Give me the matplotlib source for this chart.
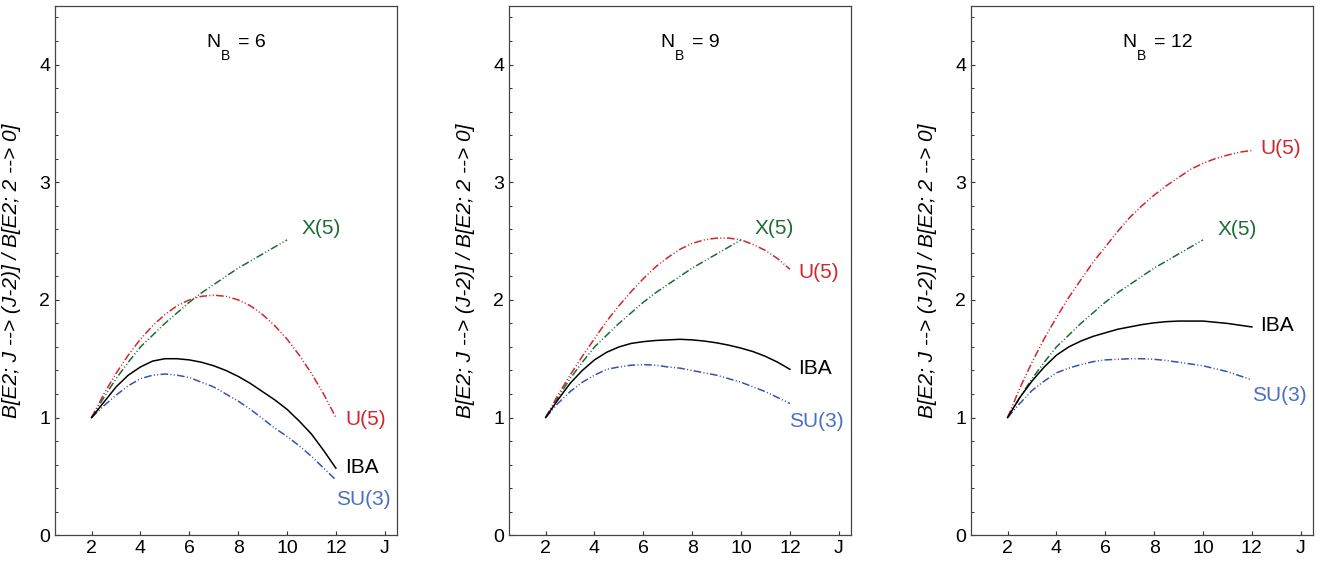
import numpy as np
import matplotlib
matplotlib.use("Agg")
import matplotlib.pyplot as plt
from matplotlib.ticker import MultipleLocator

plt.rcParams['font.family'] = ['Liberation Sans', 'DejaVu Sans']

J = [2, 2.5, 3, 3.5, 4, 4.5, 5, 5.5, 6, 6.5, 7, 7.5, 8, 8.5, 9, 9.5,
     10, 10.5, 11, 11.5, 12]
J_x5 = J[:17]

# boson numbers of the three panels
nb = [6, 9, 12]

# X(5) is the same in every panel
x5 = [1.00, 1.17, 1.33, 1.47, 1.60, 1.70, 1.80, 1.89, 1.98, 2.06, 2.13,
      2.20, 2.27, 2.33, 2.39, 2.45, 2.51]

# N_B = 6
u5_6 = [1.00, 1.20, 1.375, 1.53, 1.667, 1.78, 1.875, 1.95, 2.00, 2.03, 2.04,
        2.03, 2.00, 1.95, 1.875, 1.78, 1.667, 1.53, 1.375, 1.20, 1.00]
iba_6 = [1.00, 1.13, 1.26, 1.36, 1.43, 1.48, 1.50, 1.50, 1.49, 1.47, 1.44,
         1.40, 1.35, 1.29, 1.22, 1.15, 1.07, 0.97, 0.86, 0.72, 0.57]
su3_6 = [1.00, 1.10, 1.19, 1.27, 1.33, 1.36, 1.37, 1.36, 1.34, 1.30, 1.26,
         1.20, 1.14, 1.07, 0.99, 0.91, 0.84, 0.76, 0.67, 0.57, 0.47]

# N_B = 9
u5_9 = [1.00, 1.19, 1.36, 1.52, 1.67, 1.82, 1.95, 2.07, 2.18, 2.28, 2.36,
        2.43, 2.48, 2.51, 2.525, 2.525, 2.51, 2.47, 2.42, 2.35, 2.26]
iba_9 = [1.00, 1.15, 1.29, 1.40, 1.49, 1.555, 1.60, 1.63, 1.645, 1.655, 1.66,
         1.665, 1.66, 1.65, 1.635, 1.615, 1.59, 1.56, 1.52, 1.47, 1.41]
su3_9 = [1.00, 1.12, 1.22, 1.30, 1.36, 1.41, 1.43, 1.445, 1.45, 1.445, 1.43,
         1.42, 1.40, 1.38, 1.36, 1.33, 1.30, 1.26, 1.22, 1.17, 1.12]

# N_B = 12
u5_12 = [1.00, 1.25, 1.47, 1.67, 1.85, 2.02, 2.17, 2.32, 2.45, 2.58, 2.70,
         2.80, 2.89, 2.97, 3.04, 3.11, 3.16, 3.20, 3.23, 3.255, 3.27]
iba_12 = [1.00, 1.17, 1.31, 1.43, 1.53, 1.60, 1.65, 1.69, 1.72, 1.75, 1.77,
          1.79, 1.805, 1.815, 1.82, 1.82, 1.82, 1.81, 1.80, 1.785, 1.77]
su3_12 = [1.00, 1.12, 1.23, 1.31, 1.38, 1.42, 1.45, 1.475, 1.49, 1.495, 1.50,
          1.50, 1.495, 1.485, 1.47, 1.455, 1.44, 1.415, 1.39, 1.355, 1.32]

u5_all = [u5_6, u5_9, u5_12]
iba_all = [iba_6, iba_9, iba_12]
su3_all = [su3_6, su3_9, su3_12]

red = '#d0262c'
green = '#1d6b35'
blue = '#3553b5'
blue_txt = '#4a6fc4'
dd = (5, 1.5, 0.7, 1.5, 0.7, 1.5)

fig = plt.figure(figsize=(13.21, 5.67), dpi=100)
lefts = [0.0416, 0.3853, 0.735]

for k in range(3):
    ax = fig.add_axes([lefts[k], 0.056, 0.2589, 0.934])
    ax.plot(J_x5, x5, color=green, lw=1.1, dashes=dd)
    ax.plot(J, u5_all[k], color=red, lw=1.1, dashes=dd)
    ax.plot(J, su3_all[k], color=blue, lw=1.1, dashes=dd)
    ax.plot(J, iba_all[k], color='black', lw=1.1)

    ax.set_xlim(0.5, 14.5)
    ax.set_ylim(0, 4.5)
    ax.set_xticks([2, 4, 6, 8, 10, 12, 14])
    ax.set_xticklabels(['2', '4', '6', '8', '10', '12', 'J'])
    ax.set_yticks([0, 1, 2, 3, 4])
    ax.yaxis.set_minor_locator(MultipleLocator(0.2))
    ax.tick_params(direction='in', labelsize=14, length=3, width=0.8,
                   color='#333333', top=False, right=False)
    ax.tick_params(which='minor', direction='in', length=1.8, width=0.7,
                   color='#333333', left=True, bottom=False)
    for s in ax.spines.values():
        s.set_color('#444444')
        s.set_linewidth(0.9)

    ax.set_ylabel('B[E2; J --> (J-2)] / B[E2; 2 --> 0]', fontsize=15,
                  style='italic')
    ax.yaxis.set_label_coords(-0.1, 0.5)

    # panel title N_B = ..., subscript set lower by hand
    ax.text(6.7, 4.19, 'N', fontsize=14, va='center', ha='left')
    ax.text(7.31, 4.07, 'B', fontsize=10, va='center', ha='left')
    ax.text(8.0, 4.19, '= %d' % nb[k], fontsize=14, va='center', ha='left')

# curve labels
lab_pos = [
    {'X(5)': (10.6, 2.61), 'U(5)': (12.37, 0.98), 'IBA': (12.37, 0.575), 'SU(3)': (12.0, 0.30)},
    {'X(5)': (10.57, 2.61), 'U(5)': (12.34, 2.23), 'IBA': (12.34, 1.415), 'SU(3)': (11.96, 0.97)},
    {'X(5)': (10.58, 2.60), 'U(5)': (12.33, 3.29), 'IBA': (12.33, 1.78), 'SU(3)': (11.99, 1.19)},
]
lab_col = {'X(5)': green, 'U(5)': red, 'IBA': 'black', 'SU(3)': blue_txt}
for ax, pos in zip(fig.axes, lab_pos):
    for name, (px, py) in pos.items():
        ax.text(px, py, name, color=lab_col[name], fontsize=15,
                ha='left', va='center')

fig.savefig('out.png', dpi=100)
